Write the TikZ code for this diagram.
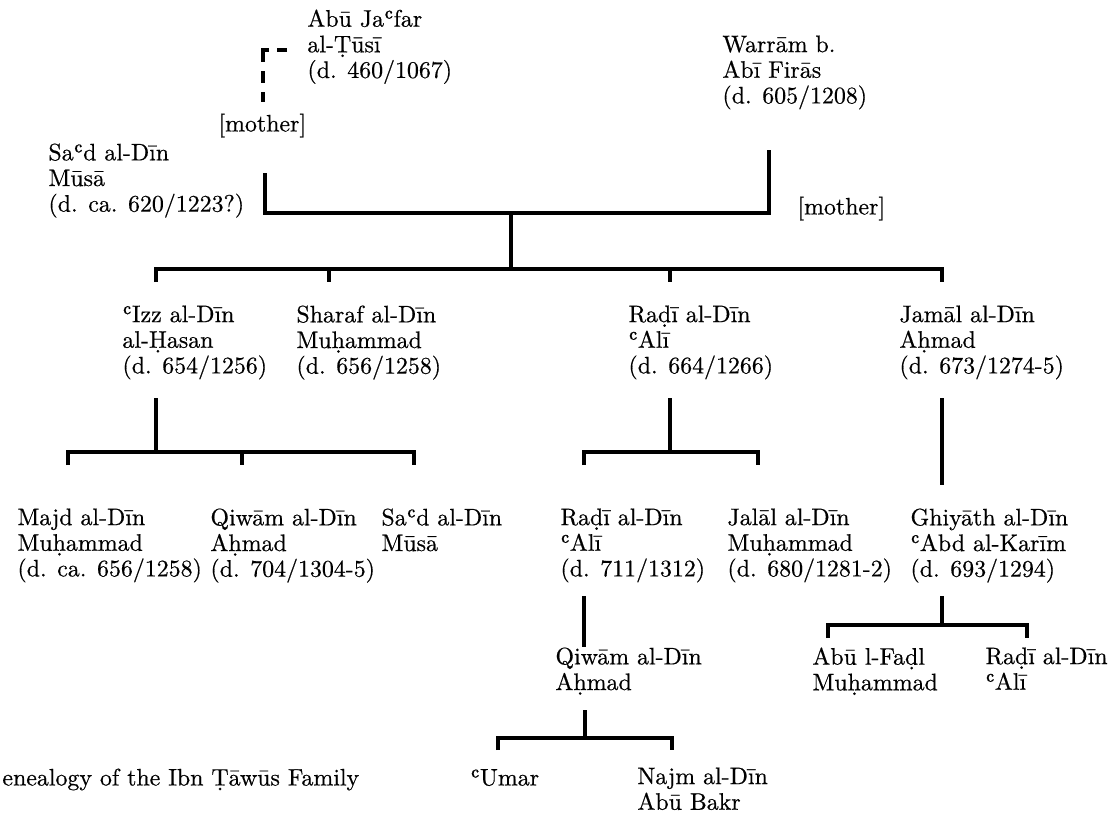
\documentclass[tikz,border=0pt]{standalone}
\usepackage{fontspec}
\setmainfont{lmroman10-regular}[Extension=.otf,FakeBold=0.5]
\begin{document}
\begin{tikzpicture}[x=0.425pt,y=-0.425pt,
  every node/.style={font=\fontsize{10.15}{10.9}\selectfont},
  nm/.style={anchor=north west,inner sep=0pt,align=left,yshift=7.63pt,execute at begin node=\strut},
  ln/.style={line width=1.35pt,line join=miter},
  dsh/.style={line width=1.35pt,line join=miter,dash pattern=on 4.25pt off 3.4pt on 7.65pt off 3.83pt on 5.1pt off 3.83pt}]
\useasboundingbox (0,0) rectangle (1118,819);
% ---------- names (position = left end of first baseline) ----------
\node[nm] (tusi)   at (307,27)  {Abū Jaʿfar\\al-Ṭūsī\\(d. 460/1067)};
\node[nm] (warram) at (722,53)  {Warrām b.\\Abī Firās\\(d. 605/1208)};
\node[nm] (motherL) at (218,131) {[mother]};
\node[nm] (saad)   at (48,161)  {Saʿd al-Dīn\\Mūsā\\(d. ca. 620/1223?)};
\node[nm] (motherR) at (797,214) {[mother]};
\node[nm] (izz)    at (122,323) {ʿIzz al-Dīn\\al-Ḥasan\\(d. 654/1256)};
\node[nm] (sharaf) at (296,323) {Sharaf al-Dīn\\Muḥammad\\(d. 656/1258)};
\node[nm] (radi)   at (628,323) {Raḍī al-Dīn\\ʿAlī\\(d. 664/1266)};
\node[nm] (jamal)  at (899,323) {Jamāl al-Dīn\\Aḥmad\\(d. 673/1274-5)};
\node[nm] (majd)   at (17,526)  {Majd al-Dīn\\Muḥammad\\(d. ca. 656/1258)};
\node[nm] (qiwamA) at (210,526) {Qiwām al-Dīn\\Aḥmad\\(d. 704/1304-5)};
\node[nm] (saadB)  at (381,526) {Saʿd al-Dīn\\Mūsā};
\node[nm] (radiB)  at (560,526) {Raḍī al-Dīn\\ʿAlī\\(d. 711/1312)};
\node[nm] (jalal)  at (727,526) {Jalāl al-Dīn\\Muḥammad\\(d. 680/1281-2)};
\node[nm] (ghiyath) at (910,526) {Ghiyāth al-Dīn\\ʿAbd al-Karīm\\(d. 693/1294)};
\node[nm] (qiwamB) at (555,665) {Qiwām al-Dīn\\Aḥmad};
\node[nm] (fadl)   at (812,665) {Abū l-Faḍl\\Muḥammad};
\node[nm] (radiC)  at (985,665) {Raḍī al-Dīn\\ʿAlī};
\node[nm] (umar)   at (470,785) {ʿUmar};
\node[nm] (najm)   at (637,785) {Najm al-Dīn\\Abū Bakr};
\node[nm] (caption) at (2,785)  {enealogy of the Ibn Ṭāwūs Family};
% ---------- connector points ----------
\coordinate (d0) at (287,50);  \coordinate (d1) at (263,50);  \coordinate (d2) at (263,103);
\coordinate (m0) at (265,173); \coordinate (m1) at (265,213);
\coordinate (w0) at (769,150); \coordinate (w1) at (769,213);
\coordinate (c0) at (511,213); \coordinate (c1) at (511,269);
\coordinate (g2a) at (156,282); \coordinate (g2b) at (156,269);
\coordinate (g2c) at (942,269); \coordinate (g2d) at (942,282);
\coordinate (g2e) at (329,269); \coordinate (g2f) at (329,282);
\coordinate (g2g) at (670,269); \coordinate (g2h) at (670,282);
% Izz
\coordinate (i0) at (156,398); \coordinate (i1) at (156,452);
\coordinate (i2) at (68,465);  \coordinate (i3) at (68,452);
\coordinate (i4) at (414,452); \coordinate (i5) at (414,465);
\coordinate (i6) at (242,452); \coordinate (i7) at (242,465);
% Radi
\coordinate (r0) at (670,398); \coordinate (r1) at (670,452);
\coordinate (r2) at (584,465); \coordinate (r3) at (584,452);
\coordinate (r4) at (758,452); \coordinate (r5) at (758,465);
% Jamal
\coordinate (j0) at (942,398); \coordinate (j1) at (942,485);
% Radi B
\coordinate (rb0) at (584,596); \coordinate (rb1) at (584,647);
% Ghiyath
\coordinate (gh0) at (942,596); \coordinate (gh1) at (942,625);
\coordinate (gh2) at (828,638); \coordinate (gh3) at (828,625);
\coordinate (gh4) at (1027,625); \coordinate (gh5) at (1027,638);
% Qiwam B
\coordinate (q0) at (585,710); \coordinate (q1) at (585,738);
\coordinate (q2) at (498,750); \coordinate (q3) at (498,738);
\coordinate (q4) at (672,738); \coordinate (q5) at (672,750);
% ---------- connectors ----------
\draw[dsh] (d0) -- (d1) -- (d2);
\draw[ln] (m0) -- (m1) -- (w1) -- (w0);
\draw[ln] (c0) -- (c1);
\draw[ln] (g2a) -- (g2b) -- (g2c) -- (g2d);
\draw[ln] (g2e) -- (g2f);
\draw[ln] (g2g) -- (g2h);
\draw[ln] (i0) -- (i1);
\draw[ln] (i2) -- (i3) -- (i4) -- (i5);
\draw[ln] (i6) -- (i7);
\draw[ln] (r0) -- (r1);
\draw[ln] (r2) -- (r3) -- (r4) -- (r5);
\draw[ln] (j0) -- (j1);
\draw[ln] (rb0) -- (rb1);
\draw[ln] (gh0) -- (gh1);
\draw[ln] (gh2) -- (gh3) -- (gh4) -- (gh5);
\draw[ln] (q0) -- (q1);
\draw[ln] (q2) -- (q3) -- (q4) -- (q5);
\end{tikzpicture}
\end{document}
